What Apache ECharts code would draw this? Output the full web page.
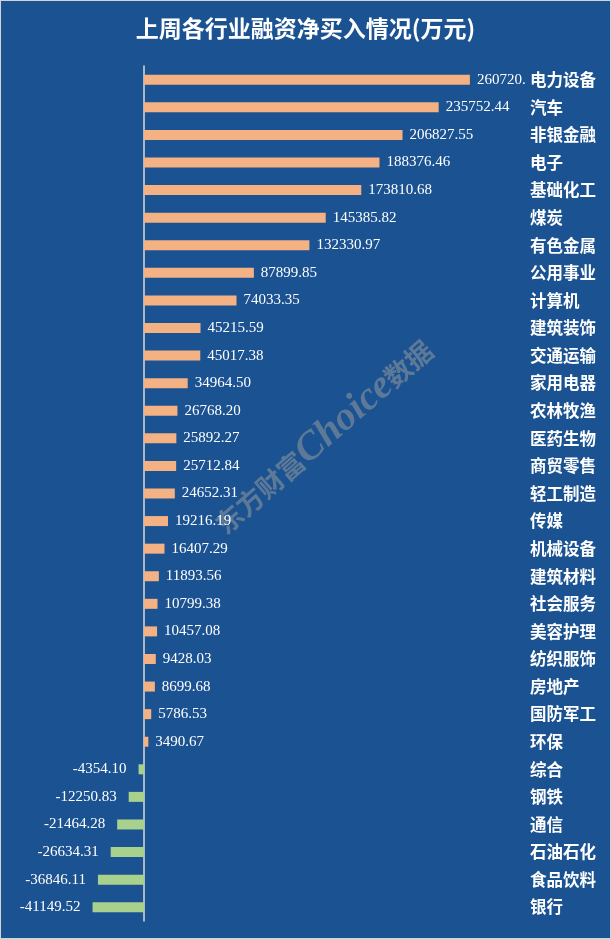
<!DOCTYPE html>
<html>
<head>
<meta charset="utf-8">
<script src="https://cdn.jsdelivr.net/npm/echarts@6/dist/echarts.min.js"></script>
<style>
html,body{margin:0;padding:0;background:#d4d4d4;}
#c{position:absolute;left:1px;top:1px;width:609px;height:937px;}
</style>
</head>
<body>
<div id="c"></div>
<script>
const categories = ["电力设备","汽车","非银金融","电子","基础化工","煤炭","有色金属","公用事业","计算机","建筑装饰","交通运输","家用电器","农林牧渔","医药生物","商贸零售","轻工制造","传媒","机械设备","建筑材料","社会服务","美容护理","纺织服饰","房地产","国防军工","环保","综合","钢铁","通信","石油石化","食品饮料","银行"];
const values = [260720.00,235752.44,206827.55,188376.46,173810.68,145385.82,132330.97,87899.85,74033.35,45215.59,45017.38,34964.50,26768.20,25892.27,25712.84,24652.31,19216.19,16407.29,11893.56,10799.38,10457.08,9428.03,8699.68,5786.53,3490.67,-4354.10,-12250.83,-21464.28,-26634.31,-36846.11,-41149.52];
const titleText = "上周各行业融资净买入情况(万元)";
const watermarkParts = ["东方财富", "Choice", "数据"];

const chart = echarts.init(document.getElementById('c'));
const seriesData = values.map((v, i) => {
  const item = {
    value: v,
    itemStyle: { color: v >= 0 ? '#F4B183' : '#A9D18E' },
    label: v >= 0 ? { position: 'right', distance: 7 } : { position: 'left', distance: 12 }
  };
  if (i === 0) {
    item.label.width = 52;
    item.label.overflow = 'truncate';
    item.label.ellipsis = '';
  }
  return item;
});

chart.setOption({
  backgroundColor: '#1B5291',
  animation: false,
  title: {
    text: titleText,
    left: 'center',
    top: 11,
    textStyle: { color: '#ffffff', fontSize: 23, fontWeight: 'bold', fontFamily: 'Noto Sans CJK SC' }
  },
  graphic: [{
    type: 'text',
    x: 323,
    y: 436,
    rotation: Math.PI * 41 / 180,
    style: {
      text: '{a|' + watermarkParts[0] + '}{b|' + watermarkParts[1] + '}{a|' + watermarkParts[2] + '}',
      align: 'center',
      verticalAlign: 'middle',
      rich: {
        a: { fontSize: 27, fontWeight: 'bold', fontFamily: 'Noto Sans CJK SC', fill: 'rgba(160,160,160,0.5)', color: 'rgba(160,160,160,0.5)' },
        b: { fontSize: 40, fontWeight: 'bold', fontStyle: 'italic', fontFamily: 'Liberation Serif', fill: 'rgba(160,160,160,0.5)', color: 'rgba(160,160,160,0.5)' }
      }
    },
    z: 0
  }],
  grid: { left: 18, right: 91, top: 65, bottom: 17, containLabel: false },
  xAxis: {
    type: 'value',
    min: -100000,
    max: 300000,
    show: false,
    splitLine: { show: false }
  },
  yAxis: [{
    type: 'category',
    data: categories,
    inverse: true,
    position: 'left',
    axisLine: { show: true, onZero: true, lineStyle: { color: '#D9D9D9', width: 1.5 } },
    axisTick: { show: false },
    axisLabel: { show: false }
  }, {
    type: 'category',
    data: categories,
    inverse: true,
    position: 'right',
    axisLine: { show: false, onZero: false },
    axisTick: { show: false },
    axisLabel: {
      show: true,
      align: 'left',
      margin: 11,
      color: '#ffffff',
      fontSize: 16.5,
      fontWeight: 'bold',
      fontFamily: 'Noto Sans CJK SC'
    }
  }],
  series: [{
    type: 'bar',
    yAxisIndex: 0,
    data: seriesData,
    barWidth: 10,
    label: {
      show: true,
      color: '#ffffff',
      fontSize: 15,
      fontFamily: 'Liberation Serif',
      formatter: p => p.value.toFixed(2)
    },
    z: 3
  }]
});
</script>
</body>
</html>
